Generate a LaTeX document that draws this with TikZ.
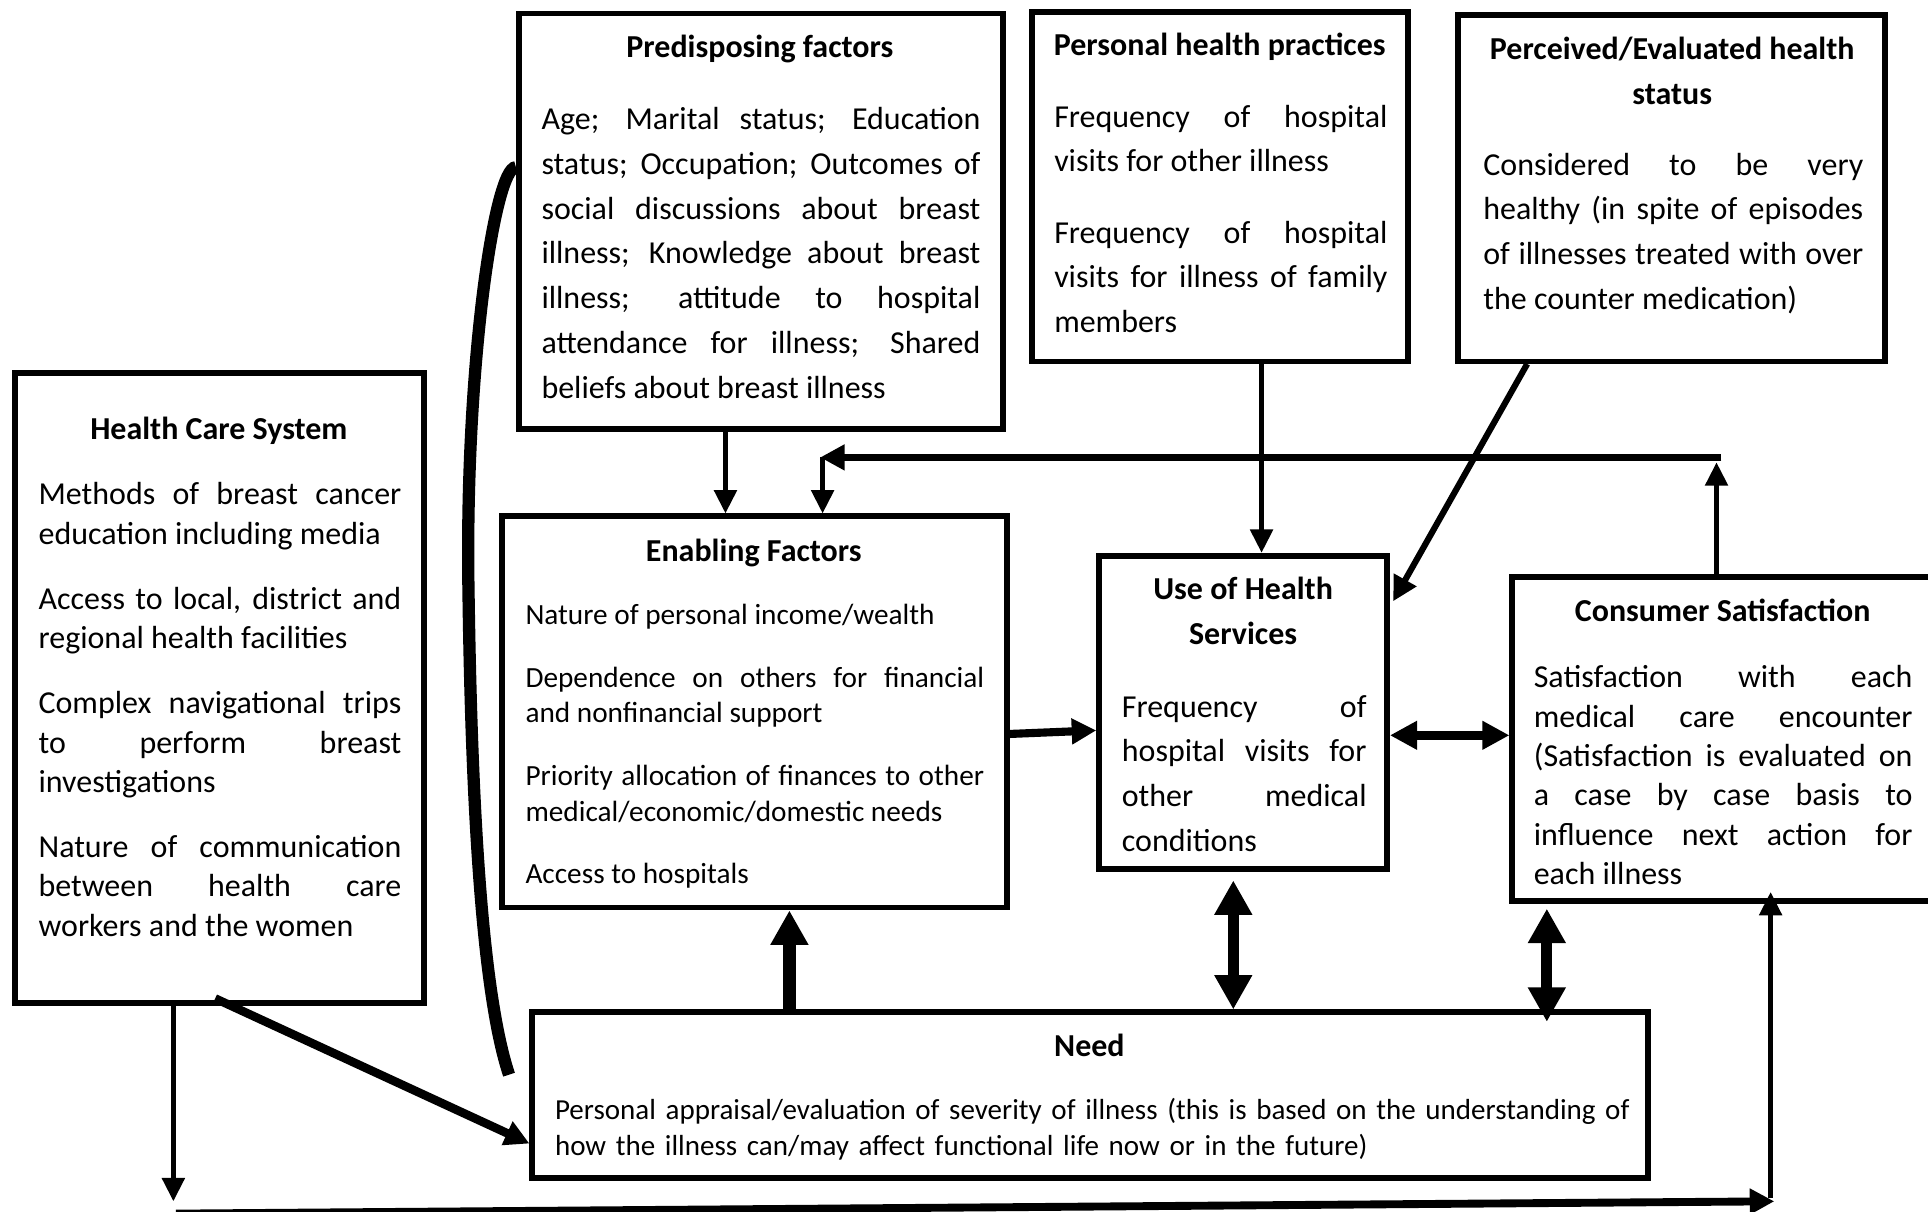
\documentclass[tikz,border=0pt]{standalone}
\usepackage{fontspec}
\setmainfont{Carlito}
\usetikzlibrary{arrows.meta,fit,positioning}
\tolerance=10000
\hbadness=10000
\hyphenpenalty=10000
\newcommand{\BigTxt}{\fontsize{13}{18.2}\selectfont}
\newcommand{\MidTxt}{\fontsize{13}{16}\selectfont}
\newcommand{\SmallTxt}{\fontsize{11.9}{14.5}\selectfont}
\newcommand{\NeedTxt}{\fontsize{11.8}{14.5}\selectfont}
\tikzset{
  box/.style={draw,line width=2.4pt,inner sep=0pt},
  ttl/.style={font=\fontsize{13}{18.3}\selectfont\bfseries,align=center,inner sep=0pt},
  txt/.style={align=justify,inner sep=0pt,anchor=north west},
  thin/.style={line width=2pt,-{Triangle[length=9.5pt,width=9pt]}},
  mid/.style={line width=3pt,-{Triangle[length=10pt,width=10pt]}},
  heavy/.style={line width=5pt,-{Triangle[length=14pt,width=14.5pt]}},
  twoway/.style={line width=4.5pt,{Triangle[length=14pt,width=14.5pt]}-{Triangle[length=14pt,width=14.5pt]}},
  twowaymid/.style={line width=3.5pt,{Triangle[length=11pt,width=11pt]}-{Triangle[length=11pt,width=11pt]}}
}

\begin{document}
\begin{tikzpicture}[x=0.5pt,y=-0.5pt]
\useasboundingbox[fill=white] (0,0) rectangle (1568,985);

\node[box,fit={(422,11) (816,349)}] (pred) {};
\node[box,fit={(839,10) (1145,294)}] (pers) {};
\node[box,fit={(1186,12) (1533,294)}] (perc) {};
\node[box,fit={(12,303) (345,816)}] (hcs) {};
\node[box,fit={(408,420) (819,738)}] (enab) {};
\node[box,fit={(894,452) (1128,707)}] (use) {};
\node[box,fit={(1230,469) (1580,733)}] (cons) {};
\node[box,fit={(433,823) (1340,958)}] (need) {};

\node[ttl] (pred title) at (618,40) {Predisposing factors};
\node[txt,text width=178.5pt,font=\BigTxt] (pred body) at (440,87)
  {Age; Marital status; Education\linebreak status; Occupation; Outcomes of\linebreak social discussions about breast\linebreak illness; Knowledge about breast\linebreak illness; attitude to hospital\linebreak attendance for illness; Shared\linebreak beliefs about breast illness};

\node[ttl] (pers title) at (992,38) {Personal health practices};
\node[txt,text width=135.5pt,font=\BigTxt] (pers body) at (857,85)
  {Frequency of hospital\linebreak visits for other illness\\[10.75pt]
   Frequency of hospital\linebreak visits for illness of family\linebreak members};

\node[ttl] (perc title) at (1360,58) {Perceived/Evaluated health\\status};
\node[txt,text width=154.5pt,font=\BigTxt] (perc body) at (1206,124)
  {Considered to be very\linebreak healthy (in spite of episodes\linebreak of illnesses treated with over\linebreak the counter medication)};

\node[ttl] (hcs title) at (178,350) {Health Care System};
\node[txt,text width=147.5pt,font=\MidTxt] (hcs body) at (31,392)
  {Methods of breast cancer\linebreak education including media\\[10.5pt]
   Access to local, district and\linebreak regional health facilities\\[10.5pt]
   Complex navigational trips\linebreak to perform breast\linebreak investigations\\[10.5pt]
   Nature of communication\linebreak between health care\linebreak workers and the women};

\node[ttl] (enab title) at (613,450) {Enabling Factors};
\node[txt,text width=186.5pt,font=\SmallTxt] (enab body) at (427,491)
  {Nature of personal income/wealth\\[11pt]
   Dependence on others for financial\linebreak and nonfinancial support\\[11pt]
   Priority allocation of finances to other\linebreak medical/economic/domestic needs\\[11pt]
   Access to hospitals};

\node[ttl] (use title) at (1011,497) {Use of Health\\Services};
\node[txt,text width=99.5pt,font=\BigTxt] (use body) at (912,565)
  {Frequency of\linebreak hospital visits for\linebreak other medical\linebreak conditions};

\node[ttl] (cons title) at (1401,496) {Consumer Satisfaction};
\node[txt,text width=154pt,font=\MidTxt] (cons body) at (1247,541)
  {Satisfaction with each\linebreak medical care encounter\linebreak (Satisfaction is evaluated on\linebreak a case by case basis to\linebreak influence next action for\linebreak each illness};

\node[ttl] (need title) at (886,850) {Need};
\node[txt,text width=450pt,align=left,font=\NeedTxt] (need body) at (451,893)
  {Personal appraisal/evaluation of severity of illness (this is based on the understanding of\\how the illness can/may affect functional life now or in the future)};

\coordinate (loop right) at (1400,372);
\coordinate (loop left) at (669,372);
\coordinate (base left) at (143,987);
\coordinate (base right) at (1443,977);

\draw[thin] (pred.south -| 590,0) -- (enab.north -| 590,0);
\draw[thin] (cons.north -| 1396,0) -- (1396,376);
\draw[mid,line width=2.7pt] (loop right) -- ([xshift=-1pt]loop left);
\draw[thin] (loop left) -- (enab.north -| loop left);
\draw[thin] (pers.south -| 1026,0) -- (use.north -| 1026,0);
\draw[mid,line width=2.5pt] (1242,296) -- (1133,489);
\draw[mid,line width=3.3pt] (819,597) -- (use.west |- 0,594);
\draw[twowaymid] (use.east |- 0,598) -- (cons.west |- 0,598);
\draw[twoway] (1003,716) -- (1003,821);
\draw[twoway] (1258,739) -- (1258,831);
\draw[heavy] (need.north -| 642,0) -- (enab.south -| 642,0);
\draw[thin] (hcs.south -| 141,0) -- (141,977);
\draw[mid,line width=3.2pt] (base left) -- (base right);
\draw[thin] (1440,974) -- (cons.south -| 1440,0) ++(0,-10);
\draw[mid,line width=3.5pt] (175,812) -- (need.west |- 0,930);
\draw[line width=5pt] (pred.west |- 0,136) .. controls (402,136) and (378,300) .. (381,480)
  .. controls (384,700) and (396,820) .. (414,874);
\end{tikzpicture}
\end{document}
